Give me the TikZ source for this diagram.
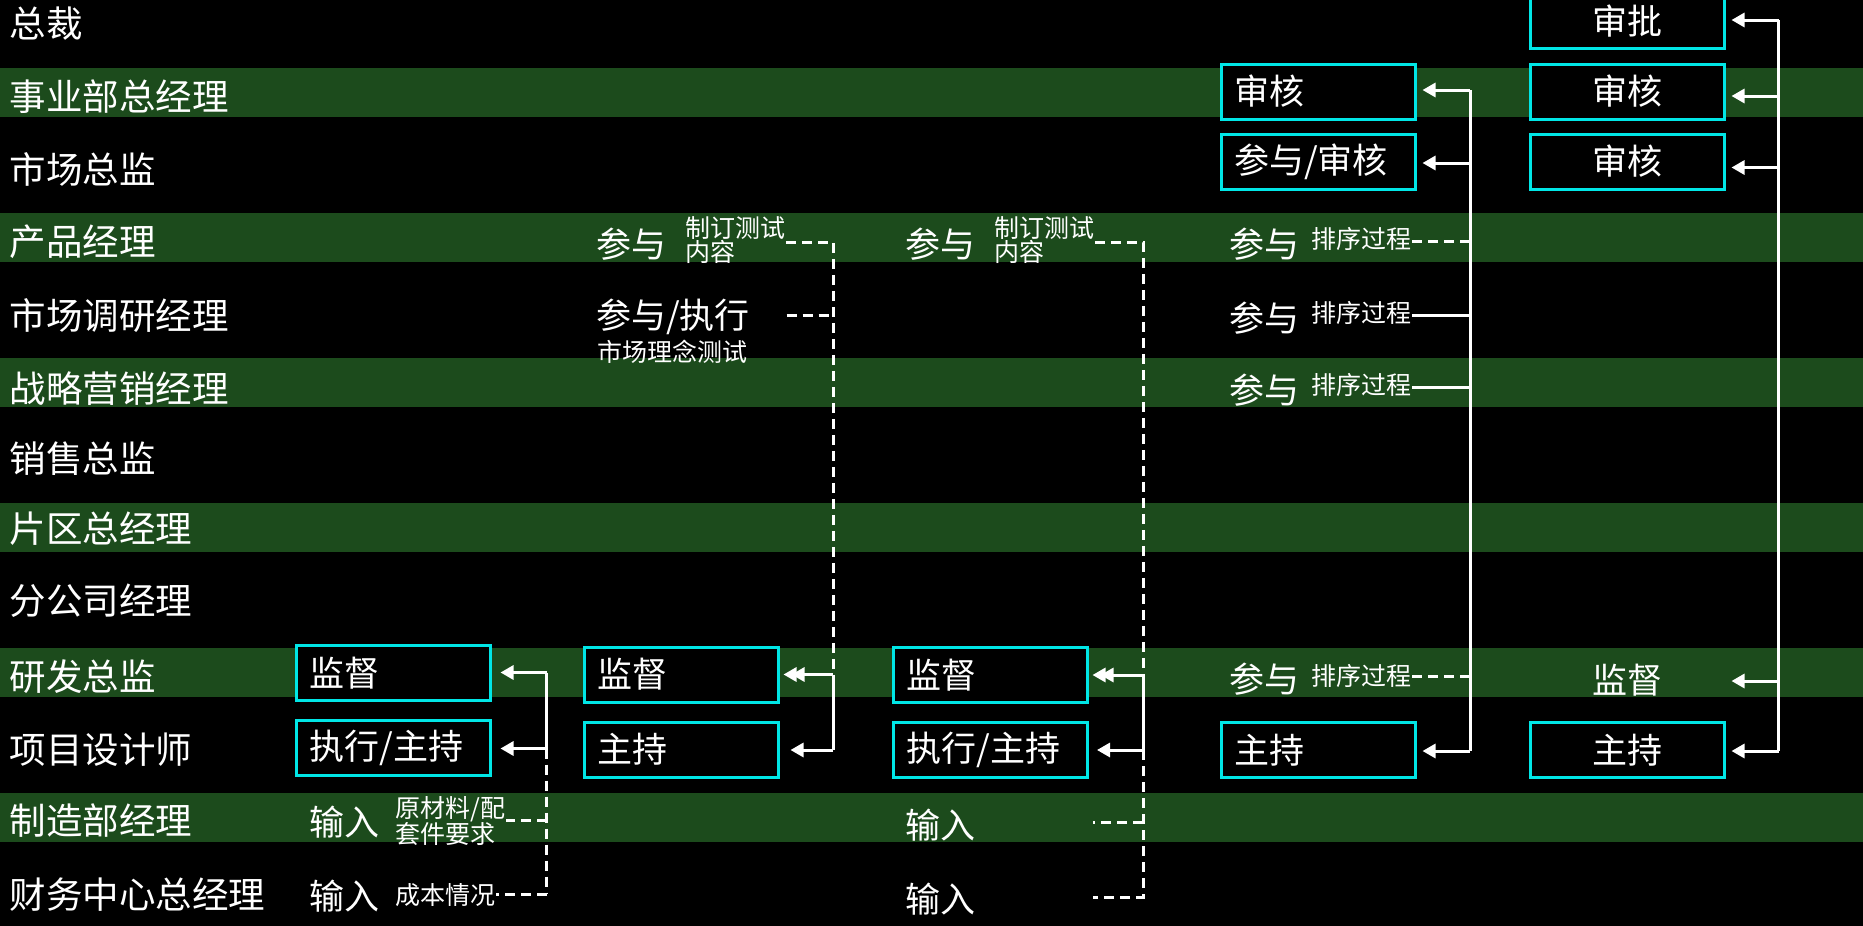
\documentclass[tikz,border=0pt]{standalone}
\usepackage{fontspec}
\setmainfont{Noto Sans CJK SC}
\usetikzlibrary{arrows.meta}
\definecolor{bandc}{RGB}{28,75,28}
\definecolor{boxc}{RGB}{0,230,230}
\begin{document}
\begin{tikzpicture}[x=1pt,y=-1pt,
  lbl/.style={anchor=west,text=white,font=\fontsize{35}{38}\selectfont,inner sep=0pt},
  rowlbl/.style={lbl,font=\fontsize{36.5}{40}\selectfont},
  sm/.style={anchor=west,text=white,font=\fontsize{25}{24}\selectfont,inner sep=0pt,align=left},
  taskbox/.style={draw=boxc,line width=3pt,fill=black,text=white,font=\fontsize{35}{38}\selectfont,
    inner xsep=13pt,inner ysep=0pt,text width=168pt,minimum height=55pt},
  lbox/.style={taskbox,align=left},
  cbox/.style={taskbox,align=center},
  conn/.style={white,line width=3pt},
  dsh/.style={conn,dash pattern=on 10pt off 6pt},
  arr/.style={conn,-{Triangle[length=13pt,width=14pt]}}]
\useasboundingbox (0,0) rectangle (1863,926);
\fill[black] (0,0) rectangle (1863,926);
\foreach \i in {0,...,5} \fill[bandc] (0,{68+145*\i}) rectangle (1863,{117+145*\i});

% left labels
\node[rowlbl] (L0) at (9.5,24) {总裁};
\node[rowlbl] (L1) at (9.5,96.5) {事业部总经理};
\node[rowlbl] (L2) at (9.5,169) {市场总监};
\node[rowlbl] (L3) at (9.5,241.5) {产品经理};
\node[rowlbl] (L4) at (9.5,316) {市场调研经理};
\node[rowlbl] (L5) at (9.5,389) {战略营销经理};
\node[rowlbl] (L6) at (9.5,459) {销售总监};
\node[rowlbl] (L7) at (9.5,529) {片区总经理};
\node[rowlbl] (L8) at (9.5,601) {分公司经理};
\node[rowlbl] (L9) at (9.5,677) {研发总监};
\node[rowlbl] (L10) at (9.5,750) {项目设计师};
\node[rowlbl] (L11) at (9.5,821) {制造部经理};
\node[rowlbl] (L12) at (9.5,895) {财务中心总经理};

% column A
\node[lbox] (A1) at (393.5,673) {监督};
\node[lbox] (A2) at (393.5,747.5) {执行/主持};
\node[lbl] (A3) at (309,822) {输入};
\node[sm] (A3s) at (395.6,821) {原材料/配\\套件要求};
\node[lbl] (A4) at (309,896) {输入};
\node[sm] (A4s) at (395.6,895) {成本情况};
\coordinate (a1) at (546.5,672.5);
\coordinate (a2) at (546.5,748.5);
\coordinate (a3) at (546.5,820);
\coordinate (a4) at (546.5,894);
\draw[conn] (a1) -- (a2);
\draw[dsh] (a2) -- (a4);
\draw[dsh] (a3) -- (a3 -| A3s.east);
\draw[dsh] (a4) -- (a4 -| A4s.east);
\draw[arr,shorten >=8.5pt] (a1) -- (a1 -| A1.east);
\draw[arr,shorten >=8.5pt] (a2) -- (a2 -| A2.east);

% column B
\node[lbl] (B3) at (596,244) {参与};
\node[sm] (B3s) at (685.5,240.5) {制订测试\\内容};
\node[lbl] (B4) at (596,317) {参与/执行};
\node[sm] (B4s) at (597.6,352) {市场理念测试};
\node[lbox] (B1) at (681,674.5) {监督};
\node[lbox] (B2) at (681,749.5) {主持};
\coordinate (b0) at (833,242);
\coordinate (b4) at (833,315);
\coordinate (b1) at (833,674.5);
\coordinate (b2) at (833,750);
\coordinate (b4e) at (786.5,315);
\draw[dsh] (b0 -| B3s.east) -- (b0) -- (b1);
\draw[dsh] (b4e) -- (b4);
\draw[conn] (b1) -- (b2);
\draw[arr,shorten >=4pt] (b1) -- (b1 -| B1.east);
\draw[arr,shorten >=12pt] (b1) -- (b1 -| B1.east);
\draw[arr,shorten >=11pt] (b2) -- (b2 -| B2.east);

% column C
\node[lbl] (C3) at (905,244) {参与};
\node[sm] (C3s) at (994.5,240.5) {制订测试\\内容};
\node[lbox] (C1) at (990.5,675) {监督};
\node[lbox] (C2) at (990.5,750) {执行/主持};
\node[lbl] (C5) at (905,825) {输入};
\node[lbl] (C6) at (905,899) {输入};
\coordinate (c0) at (1143,242);
\coordinate (c1) at (1143,675);
\coordinate (c2) at (1143,750);
\coordinate (c3) at (1143,822);
\coordinate (c4) at (1143,897);
\coordinate (c3e) at (1093,822);
\coordinate (c4e) at (1093,897);
\draw[dsh] (c0 -| C3s.east) -- (c0) -- (c1);
\draw[conn] (c1) -- (c2);
\draw[dsh] (c2) -- (c4) -- (c4e);
\draw[dsh] (c3) -- (c3e);
\draw[arr,shorten >=3.5pt] (c1) -- (c1 -| C1.east);
\draw[arr,shorten >=11.5pt] (c1) -- (c1 -| C1.east);
\draw[arr,shorten >=8pt] (c2) -- (c2 -| C2.east);

% column D
\node[lbox] (D1) at (1318,91.5) {审核};
\node[lbox] (D2) at (1318,161.5) {参与/审核};
\node[lbox] (D9) at (1318,750) {主持};
\node[lbl] (D3) at (1229.7,244) {参与};
\node[sm] (D3s) at (1311.7,239) {排序过程};
\node[lbl] (D4) at (1229.7,318) {参与};
\node[sm] (D4s) at (1311.7,313) {排序过程};
\node[lbl] (D5) at (1229.7,390) {参与};
\node[sm] (D5s) at (1311.7,385) {排序过程};
\node[lbl] (D6) at (1229.7,679) {参与};
\node[sm] (D6s) at (1311.7,676) {排序过程};
\coordinate (d1) at (1470,90);
\coordinate (d2) at (1470,163);
\coordinate (d3) at (1470,241);
\coordinate (d4) at (1470,315);
\coordinate (d5) at (1470,387);
\coordinate (d6) at (1470,676);
\coordinate (d9) at (1470,751);
\draw[conn] (d1) -- (d9);
\draw[dsh] (d3 -| D3s.east) -- (d3);
\draw[conn] (d4 -| D4s.east) -- (d4);
\draw[conn] (d5 -| D5s.east) -- (d5);
\draw[dsh] (d6 -| D6s.east) -- (d6);
\draw[arr,shorten >=6pt] (d1) -- (d1 -| D1.east);
\draw[arr,shorten >=6pt] (d2) -- (d2 -| D2.east);
\draw[arr,shorten >=6pt] (d9) -- (d9 -| D9.east);

% column E
\node[cbox] (E0) at (1627.5,21) {审批};
\node[cbox] (E1) at (1627.5,91.5) {审核};
\node[cbox] (E2) at (1627.5,161.5) {审核};
\node[taskbox,draw=none,fill=none,align=center] (E4) at (1627.5,680) {监督};
\node[cbox] (E5) at (1627.5,750) {主持};
\coordinate (e0) at (1778.6,20);
\coordinate (e1) at (1778.6,96);
\coordinate (e2) at (1778.6,167.5);
\coordinate (e4) at (1778.6,681);
\coordinate (e5) at (1778.6,751);
\draw[conn] (e0) -- (e5);
\draw[arr,shorten >=5.5pt] (e0) -- (e0 -| E0.east);
\draw[arr,shorten >=5.5pt] (e1) -- (e1 -| E1.east);
\draw[arr,shorten >=5.5pt] (e2) -- (e2 -| E2.east);
\draw[arr,shorten >=5.5pt] (e4) -- (e4 -| E4.east);
\draw[arr,shorten >=5.5pt] (e5) -- (e5 -| E5.east);
\end{tikzpicture}
\end{document}
